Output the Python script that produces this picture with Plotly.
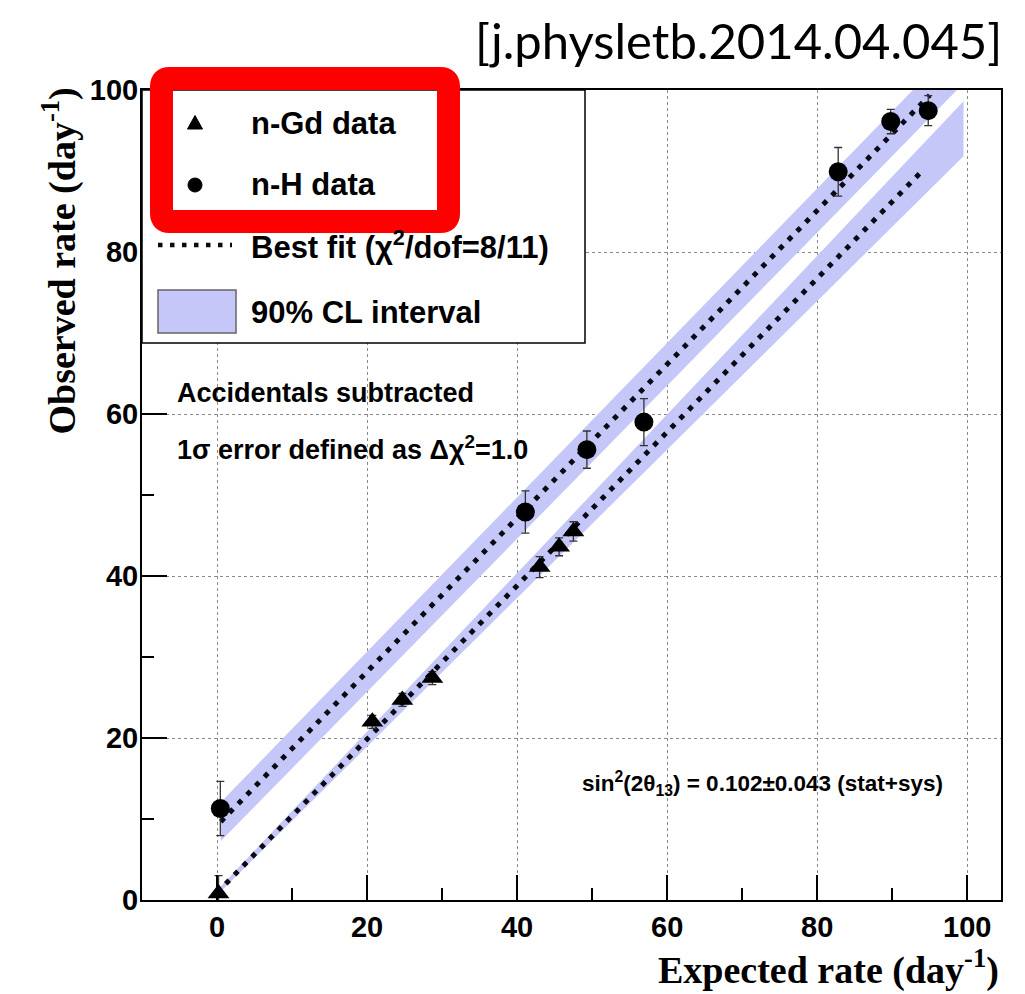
import numpy as np
import plotly.graph_objects as go

# ---------------- data ----------------
gd_x = [0.2, 20.7, 24.7, 28.7, 43.0, 45.6, 47.5]
gd_y = [0.8, 22.0, 24.7, 27.4, 41.1, 43.6, 45.5]
gd_err = [2.2, 0.8, 0.8, 0.8, 1.3, 1.1, 1.2]

h_x = [0.44, 41.1, 49.3, 56.9, 82.8, 89.8, 94.8]
h_y = [11.3, 47.9, 55.6, 59.0, 89.9, 96.1, 97.45]
h_err = [3.35, 2.6, 2.3, 2.9, 3.0, 1.5, 1.85]

# best fit lines: intercept, slope, x-range
gd_fit = dict(b=0.9, m=0.948, x=[0.0, 94.0])
h_fit = dict(b=9.2, m=0.949, x=[0.5, 95.0])
# 90% CL bands: x-range and half-width at start / end
gd_band = dict(x=[0.0, 99.5], hw=[0.3, 3.4])
h_band = dict(x=[0.5, 100.0], hw=[2.4, 2.8])

x_ticks = [0, 20, 40, 60, 80, 100]
y_ticks = [0, 20, 40, 60, 80, 100]

BAND = "rgb(196,199,247)"

# ---------------- figure geometry ----------------
OFF = 8                      # page body margin
W, H = 1025 - OFF, 994 - OFF
PL, PT, PR, PB = 142, 90, 1001, 900   # plot frame in page pixels
ML, MT = PL - OFF, PT - OFF
PW, PH = PR - PL, PB - PT
MR, MB = W - ML - PW, H - MT - PH


def px(x):
    return (x - PL) / PW


def py(y):
    return (PB - y) / PH


fig = go.Figure()


def band_poly(fit, band):
    xs = np.array(band["x"], dtype=float)
    hw = np.array(band["hw"], dtype=float)
    yc = fit["b"] + fit["m"] * xs
    bx = np.concatenate([xs, xs[::-1]])
    by = np.concatenate([yc + hw, (yc - hw)[::-1]])
    return bx, by


for fit, band in ((gd_fit, gd_band), (h_fit, h_band)):
    bx, by = band_poly(fit, band)
    fig.add_trace(go.Scatter(x=bx, y=by, fill="toself", fillcolor=BAND,
                             line=dict(width=0), mode="lines",
                             hoverinfo="skip", showlegend=False))

for fit in (gd_fit, h_fit):
    fx = np.array(fit["x"])
    fig.add_trace(go.Scatter(x=fx, y=fit["b"] + fit["m"] * fx, mode="lines",
                             line=dict(color="#0a0a14", width=5,
                                       dash="5px,7.5px"),
                             showlegend=False))

fig.add_trace(go.Scatter(x=gd_x, y=gd_y, mode="markers", name="n-Gd data",
                         marker=dict(symbol="triangle-up", size=19, color="black"),
                         error_y=dict(type="data", array=gd_err, color="#333",
                                      thickness=1.3, width=4),
                         showlegend=False))
fig.add_trace(go.Scatter(x=h_x, y=h_y, mode="markers", name="n-H data",
                         marker=dict(symbol="circle", size=19, color="black"),
                         error_y=dict(type="data", array=h_err, color="#333",
                                      thickness=1.3, width=4),
                         showlegend=False))

axis_common = dict(
    showline=True, linecolor="black", linewidth=2, mirror=True,
    ticks="inside", ticklen=25, tickwidth=1.5, tickcolor="black",
    showgrid=True, gridcolor="#8a8a8a", gridwidth=1.3, griddash="dot",
    zeroline=False,
    tickfont=dict(family="Liberation Sans, Arial", size=29, color="black",
                  weight="bold"),
    minor=dict(ticks="inside", ticklen=12, tickwidth=1.5, tickcolor="black",
               dtick=10, showgrid=False),
)

fig.update_xaxes(range=[-10, 104.5], tickvals=x_ticks, **axis_common)
fig.update_yaxes(range=[0, 100], tickvals=y_ticks, ticklabelstandoff=-4,
                 **axis_common)

shapes = []
# legend box
shapes.append(dict(type="rect", xref="paper", yref="paper",
                   x0=px(142), x1=px(585), y0=py(343), y1=py(90),
                   line=dict(color="black", width=1.5), fillcolor="white",
                   layer="above"))

# red highlight box (rounded)
x0, x1, y0, y1 = px(161.5), px(448.5), py(78.5), py(221.5)
rx, ry = 8 / PW, 8 / PH
path = (f"M{x0 + rx},{y0} L{x1 - rx},{y0} Q{x1},{y0} {x1},{y0 - ry} "
        f"L{x1},{y1 + ry} Q{x1},{y1} {x1 - rx},{y1} "
        f"L{x0 + rx},{y1} Q{x0},{y1} {x0},{y1 + ry} "
        f"L{x0},{y0 - ry} Q{x0},{y0} {x0 + rx},{y0} Z")
shapes.append(dict(type="path", xref="paper", yref="paper", path=path,
                   line=dict(color="#ff0000", width=23), fillcolor="rgba(0,0,0,0)",
                   layer="above"))

# legend glyphs
tx, ty, ts = 195, 123, 7.5
shapes.append(dict(type="path", xref="paper", yref="paper",
                   path=(f"M{px(tx - ts)},{py(ty + ts * 0.8)} L{px(tx + ts)},{py(ty + ts * 0.8)} "
                         f"L{px(tx)},{py(ty - ts * 1.0)} Z"),
                   fillcolor="black", line=dict(color="black", width=1),
                   layer="above"))
shapes.append(dict(type="circle", xref="paper", yref="paper",
                   x0=px(188), x1=px(202), y0=py(192), y1=py(178),
                   fillcolor="black", line=dict(color="black", width=1),
                   layer="above"))
shapes.append(dict(type="line", xref="paper", yref="paper",
                   x0=px(158), x1=px(232), y0=py(245), y1=py(245),
                   line=dict(color="#0a0a14", width=4.5, dash="4.5px,7.5px"),
                   layer="above"))
shapes.append(dict(type="rect", xref="paper", yref="paper",
                   x0=px(158), x1=px(236), y0=py(333), y1=py(290),
                   fillcolor=BAND, line=dict(color="#666", width=1.5),
                   layer="above"))

fig.update_layout(shapes=shapes)

SANS = "Liberation Sans, Arial"
SERIF = "Liberation Serif, Times New Roman"
ann = []


def txt(text, x, y, size, xanchor="left", yanchor="middle", family=SANS,
        weight="bold", angle=0, color="black"):
    ann.append(dict(text=text, x=x, y=y, xref="paper", yref="paper",
                    xanchor=xanchor, yanchor=yanchor, showarrow=False,
                    textangle=angle,
                    font=dict(family=family, size=size, color=color,
                              weight=weight)))


txt("n-Gd data", px(249), py(123), 31)
txt("n-H data", px(249), py(185), 31)
txt("Best fit (χ<sup>2</sup>/dof=8/11)", px(249), py(245), 31)
txt("90% CL interval", px(249), py(312), 31)

txt("Accidentals subtracted", px(175), py(393), 27)
txt("1σ error defined as Δχ<sup>2</sup>=1.0", px(175), py(448), 27)
txt("sin<sup>2</sup>(2θ<sub>13</sub>) = 0.102±0.043 (stat+sys)",
    px(580), py(783), 22.5)

txt("Expected rate (day<sup>-1</sup>)", px(1001), py(967), 38,
    xanchor="right", family=SERIF)
txt("Observed rate (day<sup>-1</sup>)", px(60), py(86), 38,
    xanchor="center", yanchor="top", family=SERIF, angle=-90)

txt("[j.physletb.2014.04.045]", px(1004), py(40), 49, xanchor="right",
    family="Lato, Open Sans", weight="normal")

fig.update_layout(
    annotations=ann,
    width=W, height=H,
    margin=dict(l=ML, r=MR, t=MT, b=MB, pad=0),
    paper_bgcolor="white", plot_bgcolor="white",
    showlegend=False,
)

fig.write_html("out.html")
